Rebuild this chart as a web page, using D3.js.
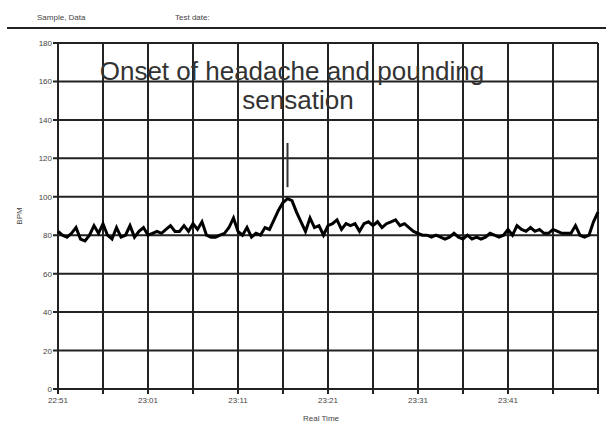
<!DOCTYPE html>
<html>
<head>
<meta charset="utf-8">
<script src="https://cdn.jsdelivr.net/npm/d3@7"></script>
<style>
  body { margin: 0; background: #fff; }
  svg text { font-family: "Liberation Sans", Arial, sans-serif; }
</style>
</head>
<body>
<div id="vis"></div>
<script>
// BPM read every 30 s, starting 22:51
let bpm = [
  82, 80, 79, 81, 84, 78, 77, 80, 85, 81, 86, 80, 78, 84, 79, 80, 85, 79, 82, 84,
  80, 81, 82, 81, 83, 85, 82, 82, 85, 82, 86, 83, 87, 80, 79, 79, 80, 81, 84, 89,
  82, 80, 84, 79, 81, 80, 84, 83, 88, 93, 97, 99, 98, 92, 87, 82, 89, 84, 85, 80,
  85, 86, 88, 83, 86, 85, 86, 82, 86, 87, 85, 87, 84, 86, 87, 88, 85, 86, 84, 82,
  81, 80, 80, 79, 80, 79, 78, 79, 81, 79, 78, 80, 78, 79, 78, 79, 81, 80, 79, 80,
  83, 80, 85, 83, 82, 84, 82, 83, 81, 81, 83, 82, 81, 81, 81, 85, 80, 79, 80, 87,
  92
];
let yTicks = [0, 20, 40, 60, 80, 100, 120, 140, 160, 180];
let xLabels = ["22:51", "23:01", "23:11", "23:21", "23:31", "23:41"];
// event mark at minute 25.5, from 105 to 128 BPM
let marker = [25.5, 105, 128];
let titleLines = ["Onset of headache and pounding", "sensation"];

let width = 606, height = 440;
let margin = {top: 43, right: 8, bottom: 51, left: 58};

document.addEventListener("DOMContentLoaded", function(){
  drawChart();
});

function drawChart(){
  let start = new Date(2000, 0, 1, 22, 51);
  let end = new Date(2000, 0, 1, 23, 51);
  let t = d => new Date(start.getTime() + d * 60000);

  let svg = d3.select("#vis").append("svg")
      .attr("width", width)
      .attr("height", height);

  let x = d3.scaleTime().domain([start, end]).range([margin.left, width - margin.right]);
  let y = d3.scaleLinear().domain([0, 180]).range([height - margin.bottom, margin.top]);

  // header
  svg.append("text").attr("x", 37).attr("y", 20).attr("font-size", 8).attr("fill", "#444").text("Sample, Data");
  svg.append("text").attr("x", 175).attr("y", 20).attr("font-size", 8).attr("fill", "#444").text("Test date:");
  svg.append("line").attr("x1", 7).attr("x2", width).attr("y1", 28).attr("y2", 28)
      .attr("stroke", "#222").attr("stroke-width", 2);

  // grid: every 5 minutes, every 20 bpm
  let gridTimes = d3.range(0, 61, 5).map(t);
  svg.append("g").selectAll("line")
      .data(gridTimes)
      .enter().append("line")
      .attr("x1", d => x(d)).attr("x2", d => x(d))
      .attr("y1", y(180)).attr("y2", y(0) + 5)
      .attr("stroke", "#222").attr("stroke-width", 2);

  svg.append("g").selectAll("line")
      .data(yTicks)
      .enter().append("line")
      .attr("x1", margin.left - 5).attr("x2", width - margin.right)
      .attr("y1", d => y(d)).attr("y2", d => y(d))
      .attr("stroke", "#222").attr("stroke-width", 2);

  // y labels
  svg.append("g").selectAll("text")
      .data(yTicks)
      .enter().append("text")
      .attr("x", margin.left - 6)
      .attr("y", d => y(d) + 3)
      .attr("text-anchor", "end")
      .attr("font-size", 8)
      .attr("fill", "#444")
      .text(d => d);

  // x labels, every 10 min
  let fmt = d3.timeFormat("%H:%M");
  let labelTimes = xLabels.map(s => {
    let p = s.split(":");
    return new Date(2000, 0, 1, +p[0], +p[1]);
  });
  svg.append("g").selectAll("text")
      .data(labelTimes)
      .enter().append("text")
      .attr("x", d => x(d))
      .attr("y", y(0) + 14)
      .attr("text-anchor", "middle")
      .attr("font-size", 8)
      .attr("fill", "#444")
      .text(d => fmt(d));

  svg.append("text")
      .attr("x", 321).attr("y", 421)
      .attr("text-anchor", "middle")
      .attr("font-size", 8)
      .attr("fill", "#444")
      .text("Real Time");

  svg.append("text")
      .attr("transform", "translate(22," + ((y(0) + y(180)) / 2) + ")rotate(-90)")
      .attr("text-anchor", "middle")
      .attr("font-size", 8)
      .attr("fill", "#444")
      .text("BPM");

  // heart rate trace
  let line = d3.line()
      .x((d, i) => x(t(i * 0.5)))
      .y(d => y(d));
  svg.append("path")
      .datum(bpm)
      .attr("d", line)
      .attr("fill", "none")
      .attr("stroke", "#000")
      .attr("stroke-width", 3)
      .attr("stroke-linejoin", "miter");

  // event marker
  svg.append("line")
      .attr("x1", x(t(marker[0]))).attr("x2", x(t(marker[0])))
      .attr("y1", y(marker[1])).attr("y2", y(marker[2]))
      .attr("stroke", "#333").attr("stroke-width", 2);

  // annotation
  svg.append("g").selectAll("text")
      .data(titleLines)
      .enter().append("text")
      .attr("x", (d, i) => i == 0 ? 292 : 298)
      .attr("y", (d, i) => 80 + i * 29)
      .attr("text-anchor", "middle")
      .attr("font-size", 26)
      .attr("fill", "#333")
      .text(d => d);
}
</script>
</body>
</html>
